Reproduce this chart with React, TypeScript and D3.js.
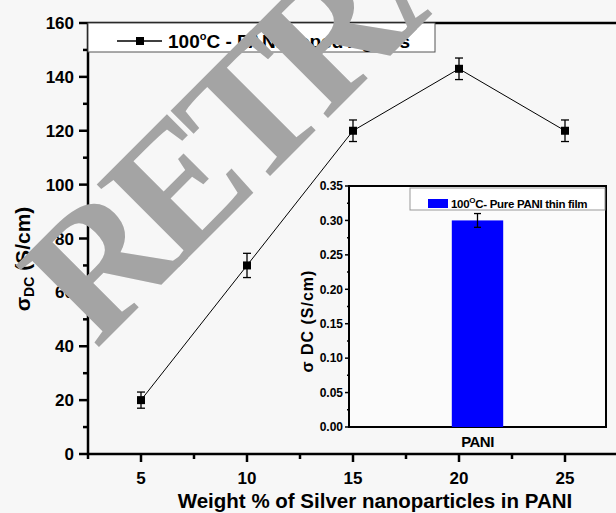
import React from 'react';
import * as d3 from 'd3';

// main series: conductivity vs. weight % of AgNPs
const weightPct = [5, 10, 15, 20, 25];
const sigmaDC = [20, 70, 120, 143, 120];
const sigmaErr = [3, 4.5, 4, 4, 4];
const yTickValues = [0, 20, 40, 60, 80, 100, 120, 140, 160];
const xTickValues = [5, 10, 15, 20, 25];

// inset: pure PANI film
const insetCategories = ['PANI'];
const insetValues = [0.3];
const insetErr = [0.01];
const insetTicks = [0, 0.05, 0.1, 0.15, 0.2, 0.25, 0.3, 0.35];

const W = 616;
const H = 513;
const font = 'Arial, "Liberation Sans", sans-serif';

const App = () => {
    // main plot area
    const x = d3.scaleLinear().domain([2.5, 27.5]).range([88, 618]);
    const y = d3.scaleLinear().domain([0, 160]).range([454, 23]);
    const minorY = d3.range(10, 160, 20);
    const minorX = d3.range(2.5, 28, 5);

    const line = d3.line<number>().x((d, i) => x(weightPct[i])).y((d) => y(d));

    // inset area
    const ix = d3.scaleBand().domain(insetCategories).range([349, 606]).paddingInner(0).paddingOuter(2);
    const iy = d3.scaleLinear().domain([0, 0.35]).range([427, 186]);
    const insetMinor = d3.range(0.025, 0.35, 0.05);

    return (
        <svg width={W} height={H} style={{ position: 'absolute', left: 0, top: 0, background: '#f7f7f7' }} fontFamily={font}>
            {/* main axes frame */}
            <line x1={x.range()[0]} x2={x.range()[1]} y1={y(160)} y2={y(160)} stroke="#000" strokeWidth={2.5} />
            <line x1={x.range()[0]} x2={x.range()[1]} y1={y(0)} y2={y(0)} stroke="#000" strokeWidth={2.5} />
            <line x1={x(2.5)} x2={x(2.5)} y1={y(0) + 1} y2={y(160) - 1} stroke="#000" strokeWidth={2.5} />

            {/* y ticks */}
            {yTickValues.map((v) => (
                <g key={`yt-${v}`}>
                    <line x1={x(2.5) - 9} x2={x(2.5)} y1={y(v)} y2={y(v)} stroke="#000" strokeWidth={2.5} />
                    <text x={74} y={y(v)} dy="0.36em" textAnchor="end" fontSize={17} fontWeight="bold">{v}</text>
                </g>
            ))}
            {minorY.map((v) => (
                <line key={`ym-${v}`} x1={x(2.5) - 5} x2={x(2.5)} y1={y(v)} y2={y(v)} stroke="#000" strokeWidth={2.5} />
            ))}

            {/* x ticks */}
            {xTickValues.map((v) => (
                <g key={`xt-${v}`}>
                    <line x1={x(v)} x2={x(v)} y1={y(0)} y2={y(0) + 8} stroke="#000" strokeWidth={2.5} />
                    <text x={x(v)} y={483.5} textAnchor="middle" fontSize={17} fontWeight="bold">{v}</text>
                </g>
            ))}
            {minorX.map((v) => (
                <line key={`xm-${v}`} x1={x(v)} x2={x(v)} y1={y(0)} y2={y(0) + 5} stroke="#000" strokeWidth={2.5} />
            ))}

            {/* axis titles */}
            <text x={375} y={508} textAnchor="middle" fontSize={20.5} fontWeight="bold">Weight % of Silver nanoparticles in PANI</text>
            <text transform="translate(30, 259) rotate(-90)" textAnchor="middle" fontSize={21} fontWeight="bold">
                σ<tspan fontSize={14} dy={4}>DC</tspan><tspan dy={-4}> (S/cm)</tspan>
            </text>

            {/* legend */}
            <rect x={88} y={23} width={347} height={29} fill="#fff" stroke="#555" strokeWidth={1} />
            <line x1={117} x2={162} y1={41} y2={41} stroke="#000" strokeWidth={1.5} />
            <rect x={136} y={37} width={8} height={8} fill="#000" />
            <text x={168} y={48} fontSize={19} fontWeight="bold">
                100<tspan fontSize={11} dy={-8}>o</tspan><tspan dy={8}>C - PANI doped AgNPs</tspan>
            </text>

            {/* data line, error bars, markers */}
            <path d={line(sigmaDC) || ''} fill="none" stroke="#000" strokeWidth={1} />
            {weightPct.map((w, i) => (
                <g key={`pt-${w}`} stroke="#000" strokeWidth={1.3}>
                    <line x1={x(w)} x2={x(w)} y1={y(sigmaDC[i] - sigmaErr[i])} y2={y(sigmaDC[i] + sigmaErr[i])} />
                    <line x1={x(w) - 4} x2={x(w) + 4} y1={y(sigmaDC[i] - sigmaErr[i])} y2={y(sigmaDC[i] - sigmaErr[i])} />
                    <line x1={x(w) - 4} x2={x(w) + 4} y1={y(sigmaDC[i] + sigmaErr[i])} y2={y(sigmaDC[i] + sigmaErr[i])} />
                    <rect x={x(w) - 4} y={y(sigmaDC[i]) - 4} width={8} height={8} fill="#000" stroke="none" />
                </g>
            ))}

            {/* inset */}
            <rect x={349} y={186} width={257} height={241} fill="#fbfbfb" stroke="#000" strokeWidth={2} />
            {insetTicks.map((v) => (
                <g key={`it-${v}`}>
                    <line x1={345} x2={349} y1={iy(v)} y2={iy(v)} stroke="#000" strokeWidth={1.5} />
                    <text x={343} y={iy(v)} dy="0.36em" textAnchor="end" fontSize={12} fontWeight="bold">{v.toFixed(2)}</text>
                </g>
            ))}
            {insetMinor.map((v) => (
                <line key={`im-${v}`} x1={347} x2={349} y1={iy(v)} y2={iy(v)} stroke="#000" strokeWidth={1.5} />
            ))}
            {insetCategories.map((c, i) => (
                <g key={`bar-${c}`}>
                    <rect x={ix(c)} y={iy(insetValues[i])} width={ix.bandwidth()} height={iy(0) - iy(insetValues[i])} fill="#0000ff" />
                    <g stroke="#000" strokeWidth={1.3}>
                        <line x1={ix(c)! + ix.bandwidth() / 2} x2={ix(c)! + ix.bandwidth() / 2} y1={iy(insetValues[i] - insetErr[i])} y2={iy(insetValues[i] + insetErr[i])} />
                        <line x1={ix(c)! + ix.bandwidth() / 2 - 3.5} x2={ix(c)! + ix.bandwidth() / 2 + 3.5} y1={iy(insetValues[i] + insetErr[i])} y2={iy(insetValues[i] + insetErr[i])} />
                        <line x1={ix(c)! + ix.bandwidth() / 2 - 3.5} x2={ix(c)! + ix.bandwidth() / 2 + 3.5} y1={iy(insetValues[i] - insetErr[i])} y2={iy(insetValues[i] - insetErr[i])} />
                    </g>
                    <text x={ix(c)! + ix.bandwidth() / 2} y={447} textAnchor="middle" fontSize={15} fontWeight="bold" letterSpacing={-0.5}>{c}</text>
                </g>
            ))}
            <text transform="translate(313, 321) rotate(-90)" textAnchor="middle" fontSize={16} fontWeight="bold" letterSpacing={1}>σ DC (S/cm)</text>

            {/* inset legend */}
            <rect x={410} y={188} width={195} height={22} fill="#fff" stroke="#999" strokeWidth={1} />
            <rect x={428} y={199} width={20} height={9} fill="#0000ff" />
            <text x={451} y={207.5} fontSize={11.5} fontWeight="bold" letterSpacing={-0.3}>
                100<tspan fontSize={8} dy={-5}>O</tspan><tspan dy={5}>C- Pure PANI thin film</tspan>
            </text>

            {/* watermark */}
            <text transform="translate(96, 350) rotate(-45)" fontFamily='"Liberation Serif", "Times New Roman", serif' fontWeight="bold" fontSize={178} letterSpacing={-14} fill="#a4a4a4">RETRACTED</text>
        </svg>
    );
};

export default App;
